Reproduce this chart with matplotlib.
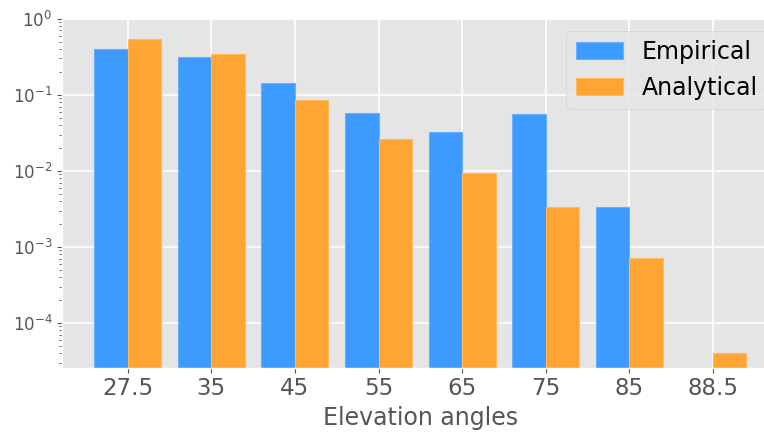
import numpy as np
import matplotlib as mpl
mpl.use('Agg')
import matplotlib.pyplot as plt

plt.style.use('ggplot')

angles = ['27.5', '35', '45', '55', '65', '75', '85', '88.5']
empirical = [0.396, 0.313, 0.144, 0.058, 0.0326, 0.0557, 0.0033, 0.0]
analytical = [0.536, 0.340, 0.0851, 0.0264, 0.00933, 0.00331, 0.000716, 4.03e-5]

fig = plt.figure(figsize=(7.64, 4.32), dpi=100)
# axes run past the right edge, as in the reference
ax = fig.add_axes([62/764, 64.5/432, 717/764, 348.8/432])

x = np.arange(len(angles))
w = 0.4
ax.bar(x - w/2, empirical, w, color='#3d9bff', edgecolor='#6aafff', linewidth=0.8, label='Empirical')
ax.bar(x + w/2, analytical, w, color='#ffa533', edgecolor='#ffb95e', linewidth=0.8, label='Analytical')

ax.set_yscale('log')
ax.set_ylim(2.59e-5, 1)
ax.set_xlim(-0.786, 7.79)
ax.set_xticks(x)
ax.set_xticklabels(angles, fontsize=16.5)
ax.tick_params(axis='y', labelsize=12)
ax.set_xlabel('Elevation angles', fontsize=17)
ax.grid(True, which='major', color='white', linewidth=1.2)
ax.set_axisbelow(True)

ax.legend(fontsize=17, loc='upper right', framealpha=0.8)

plt.savefig('out.png', dpi=100)
